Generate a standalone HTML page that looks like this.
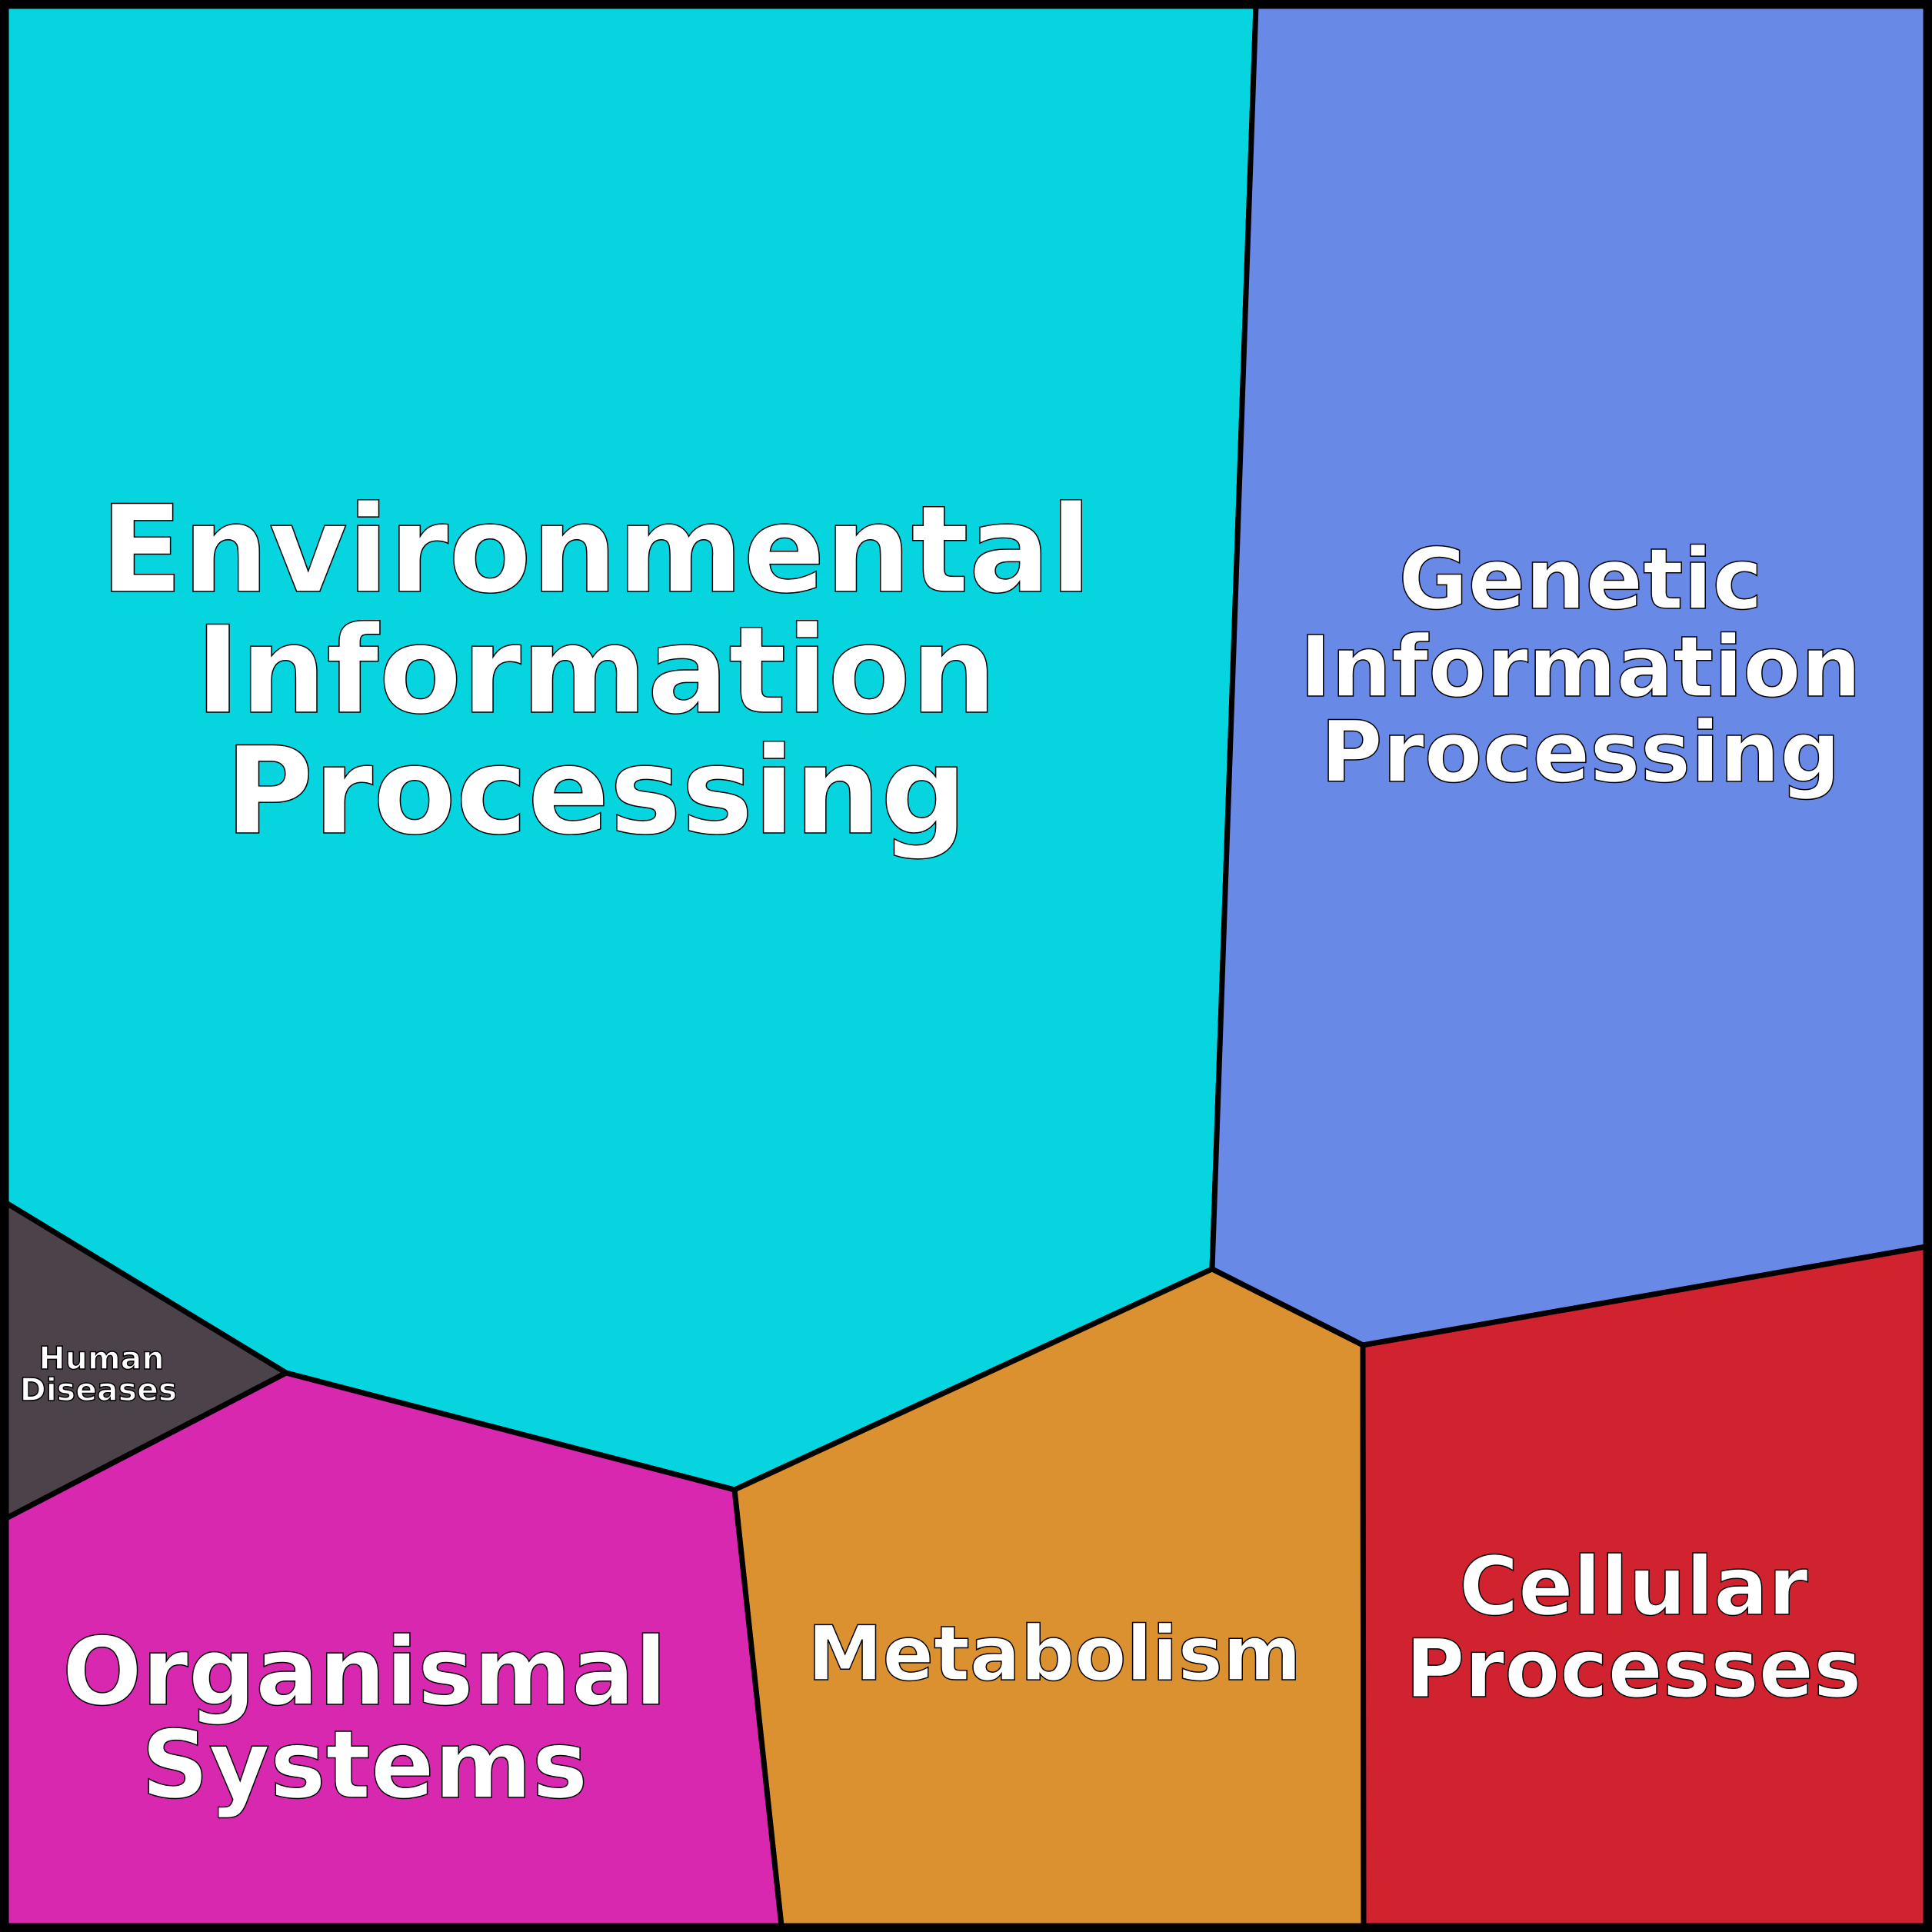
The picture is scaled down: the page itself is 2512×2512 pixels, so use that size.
<!DOCTYPE html>
<html><head><meta charset="utf-8"><style>
html,body{margin:0;padding:0;background:#fff}
svg{display:block}
text{font-family:"DejaVu Sans","Liberation Sans",sans-serif;font-weight:bold;fill:#fff;stroke:#000;stroke-width:1.5;text-anchor:middle;paint-order:fill}
</style></head><body>
<svg width="2512" height="2512" viewBox="0 0 2512 2512" xmlns="http://www.w3.org/2000/svg">
<g stroke="#000" stroke-width="7" stroke-linejoin="round">
<polygon points="8,8 1633,8 1576,1650 955,1937 372,1785 8,1564" fill="#06d4de"/>
<polygon points="1633,8 2504,8 2504,1621 1772,1749 1576,1650" fill="#6889e5"/>
<polygon points="1576,1650 1772,1749 1773,2504 1016,2504 955,1937" fill="#db912f"/>
<polygon points="1772,1749 2504,1621 2504,2504 1773,2504" fill="#d12230"/>
<polygon points="8,1974 372,1785 955,1937 1016,2504 8,2504" fill="#d928b0"/>
<polygon points="8,1564 372,1785 8,1974" fill="#4b4349"/>
</g>
<rect x="4.5" y="4.5" width="2503" height="2503" fill="none" stroke="#000" stroke-width="9"/>
<g font-size="157">
<text x="775" y="769">Environmental</text>
<text x="775" y="926">Information</text>
<text x="775" y="1083">Processing</text>
</g>
<g font-size="110">
<text x="2055" y="791">Genetic</text>
<text x="2055" y="905">Information</text>
<text x="2055" y="1016">Processing</text>
</g>
<g font-size="105">
<text x="2124" y="2099">Cellular</text>
<text x="2124" y="2206">Processes</text>
</g>
<text x="1371" y="2184" font-size="98">Metabolism</text>
<g font-size="122">
<text x="474" y="2216">Organismal</text>
<text x="474" y="2337">Systems</text>
</g>
<g font-size="41" style="stroke-width:0.8">
<text x="132" y="1780">Human</text>
<text x="128" y="1821">Diseases</text>
</g>
</svg>
</body></html>
